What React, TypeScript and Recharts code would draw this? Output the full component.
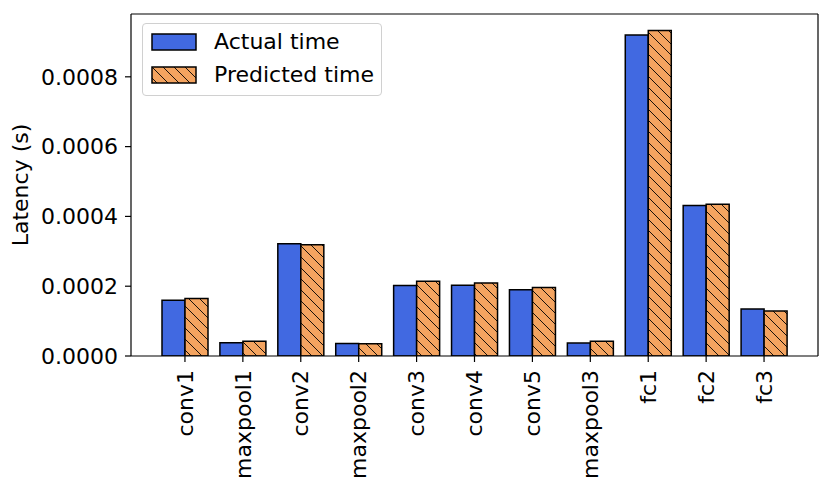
import { BarChart, Bar, XAxis, YAxis, Legend } from 'recharts';

const layers = ['conv1', 'maxpool1', 'conv2', 'maxpool2', 'conv3', 'conv4', 'conv5', 'maxpool3', 'fc1', 'fc2', 'fc3'];
const actualTime = [0.00016, 0.000038, 0.000322, 0.000036, 0.000202, 0.000203, 0.00019, 0.000037, 0.00092, 0.000431, 0.000135];
const predictedTime = [0.000165, 0.000042, 0.000319, 0.000035, 0.000214, 0.000209, 0.000196, 0.000042, 0.000933, 0.000435, 0.000129];
const yTicks = [0, 0.0002, 0.0004, 0.0006, 0.0008];

const data = layers.map((name, i) => ({
  name,
  actual: actualTime[i],
  predicted: predictedTime[i],
}));

const FONT = 'DejaVu Sans, sans-serif';
const FS = 22;
const BLUE = '#4169e1';
const ORANGE = '#f4a460';

const RotatedTick = (props: any) => {
  const { x, y, payload } = props;
  return (
    <text
      x={x}
      y={y}
      transform={`rotate(-90, ${x}, ${y})`}
      textAnchor="end"
      dy="0.35em"
      fontSize={FS}
      fontFamily={FONT}
      fill="#000"
    >
      {payload.value}
    </text>
  );
};

const LegendBox = () => {
  const items = [
    { label: 'Actual time', fill: BLUE },
    { label: 'Predicted time', fill: 'url(#hatchOrange)' },
  ];
  return (
    <div
      style={{
        boxSizing: 'border-box',
        border: '1px solid #d0d0d0',
        borderRadius: 4,
        background: 'rgba(255,255,255,0.8)',
        padding: '1px 6px 4px 8px',
        fontFamily: FONT,
        fontSize: FS,
        color: '#000',
        width: 240,
        whiteSpace: 'nowrap',
      }}
    >
      {items.map((it) => (
        <div key={it.label} style={{ display: 'flex', alignItems: 'center', height: 33 }}>
          <svg width={46} height={18} style={{ marginRight: 17, flexShrink: 0 }}>
            <rect x={1} y={1} width={44} height={16} fill={it.fill} stroke="#000" strokeWidth={1.5} />
          </svg>
          <span>{it.label}</span>
        </div>
      ))}
    </div>
  );
};

export default function App() {
  return (
    <div style={{ position: 'absolute', left: 0, top: 0, width: 830, height: 491, background: '#fff' }}>
      <BarChart
        width={830}
        height={491}
        data={data}
        margin={{ top: 13, right: 11, left: 0, bottom: 0 }}
        barGap={0}
        barSize={23}
      >
        <defs>
          <pattern id="hatchOrange" patternUnits="userSpaceOnUse" width={11} height={11}>
            <rect width={11} height={11} fill={ORANGE} />
            <path d="M0,0 L11,11 M-2,9 L2,13 M9,-2 L13,2" stroke="#000" strokeWidth={0.9} />
          </pattern>
        </defs>
        <XAxis
          dataKey="name"
          interval={0}
          height={135}
          padding={{ left: 25, right: 25 }}
          tick={<RotatedTick />}
          tickSize={6}
          tickMargin={8}
          axisLine={{ stroke: '#000', strokeWidth: 1.2 }}
          tickLine={{ stroke: '#000', strokeWidth: 1.2 }}
        />
        <XAxis
          xAxisId="top"
          orientation="top"
          dataKey="name"
          height={1}
          tick={false}
          tickLine={false}
          axisLine={{ stroke: '#000', strokeWidth: 1.2 }}
        />
        <YAxis
          width={131}
          domain={[0, 0.00098]}
          ticks={yTicks}
          allowDataOverflow
          tickFormatter={(v: number) => v.toFixed(4)}
          tick={{ fontSize: FS, fontFamily: FONT, fill: '#000' }}
          tickSize={6}
          tickMargin={7}
          axisLine={{ stroke: '#000', strokeWidth: 1.2 }}
          tickLine={{ stroke: '#000', strokeWidth: 1.2 }}
          label={{
            content: () => (
              <text
                x={28}
                y={185}
                transform="rotate(-90, 28, 185)"
                textAnchor="middle"
                fontSize={FS}
                fontFamily={FONT}
                fill="#000"
              >
                Latency (s)
              </text>
            ),
          }}
        />
        <YAxis
          yAxisId="right"
          orientation="right"
          width={1}
          domain={[0, 0.00098]}
          tick={false}
          tickLine={false}
          axisLine={{ stroke: '#000', strokeWidth: 1.2 }}
        />
        <Legend
          layout="vertical"
          align="center"
          verticalAlign="middle"
          content={<LegendBox />}
          wrapperStyle={{ position: 'absolute', left: 142, top: 23, width: 'auto' }}
        />
        <Bar dataKey="actual" name="Actual time" fill={BLUE} stroke="#000" strokeWidth={1.5} isAnimationActive={false} />
        <Bar
          dataKey="predicted"
          name="Predicted time"
          fill="url(#hatchOrange)"
          stroke="#000"
          strokeWidth={1.5}
          isAnimationActive={false}
        />
      </BarChart>
    </div>
  );
}
